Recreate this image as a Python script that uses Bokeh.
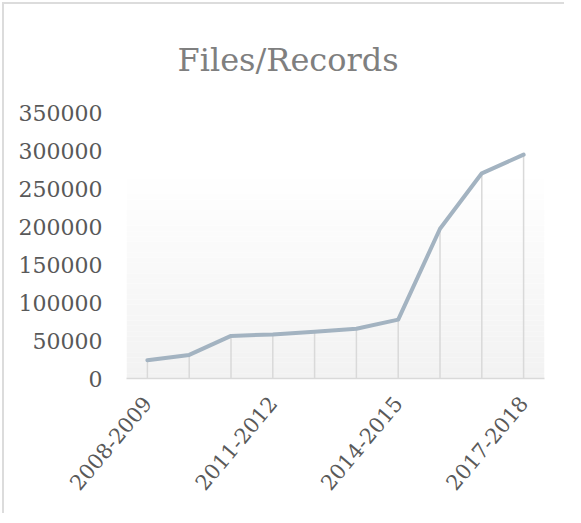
import numpy as np
from bokeh.plotting import figure
from bokeh.models import FixedTicker
from bokeh.embed import file_html
from bokeh.resources import INLINE

# ---- data ----
categories = ["2008-2009", "2009-2010", "2010-2011", "2011-2012", "2012-2013",
              "2013-2014", "2014-2015", "2015-2016", "2016-2017", "2017-2018"]
records = [24000, 31000, 56000, 58000, 61500, 65500, 77500, 197000, 270000, 294500]
shown_labels = ["2008-2009", "2011-2012", "2014-2015", "2017-2018"]
y_ticks = [0, 50000, 100000, 150000, 200000, 250000, 300000, 350000]
title_text = "Files/Records"

FONT = "DejaVu Serif"
xs = list(range(len(categories)))

p = figure(width=562, height=511, output_backend="svg", toolbar_location=None,
           x_range=(-0.5, len(categories) - 0.5), y_range=(0, 350000),
           min_border_left=122, min_border_right=22, min_border_top=108,
           min_border_bottom=137, title=title_text)
p.styles = {"margin-left": "2px", "margin-top": "2px",
            "border-top": "2px solid #dcdcdc", "border-left": "2px solid #dcdcdc"}
p.outline_line_color = None
p.xgrid.grid_line_color = None
p.ygrid.grid_line_color = None
p.background_fill_color = "white"
p.border_fill_color = "white"

p.title.align = "left"
p.title.offset = 51
p.title.standoff = 68
p.title.text_font = FONT
p.title.text_font_size = "32px"
p.title.text_font_style = "normal"
p.title.text_color = "#7f7f7f"

# gradient plot-area fill (light grey at bottom fading to white)
n_bands = 40
grad_top = 277000
edges = np.linspace(0, grad_top, n_bands + 1)
cols = []
for i in range(n_bands):
    t = i / (n_bands - 1)
    c = int(round(242 + (255 - 242) * t))
    cols.append("#%02x%02x%02x" % (c, c, c))
p.quad(left=-0.5, right=len(categories) - 0.5, bottom=edges[:-1], top=edges[1:],
       fill_color=cols, line_color=None)

# drop lines
p.segment(x0=xs, y0=[0] * len(xs), x1=xs, y1=records, line_color="#d9d9d9", line_width=1.5)

# main line
p.line(xs, records, line_color="#a3b3c1", line_width=4, line_join="round", line_cap="round")

# axes
p.yaxis.ticker = FixedTicker(ticks=y_ticks)
p.yaxis.major_label_overrides = {t: str(t) for t in y_ticks}
p.yaxis.axis_line_color = None
p.yaxis.major_tick_line_color = None
p.yaxis.minor_tick_line_color = None
p.yaxis.major_label_standoff = 18
p.yaxis.major_label_text_font = FONT
p.yaxis.major_label_text_font_size = "22px"
p.yaxis.major_label_text_color = "#595959"

shown_idx = [categories.index(c) for c in shown_labels]
p.xaxis.ticker = FixedTicker(ticks=shown_idx)
p.xaxis.major_label_overrides = {i: categories[i] for i in shown_idx}
p.xaxis.axis_line_color = "#d9d9d9"
p.xaxis.axis_line_width = 1.5
p.xaxis.major_tick_line_color = None
p.xaxis.minor_tick_line_color = None
p.xaxis.major_label_orientation = np.deg2rad(50)
p.xaxis.major_label_standoff = 15
p.xaxis.major_label_text_font = FONT
p.xaxis.major_label_text_font_size = "21px"
p.xaxis.major_label_text_color = "#595959"

open("out.html", "w").write(file_html(p, INLINE))
